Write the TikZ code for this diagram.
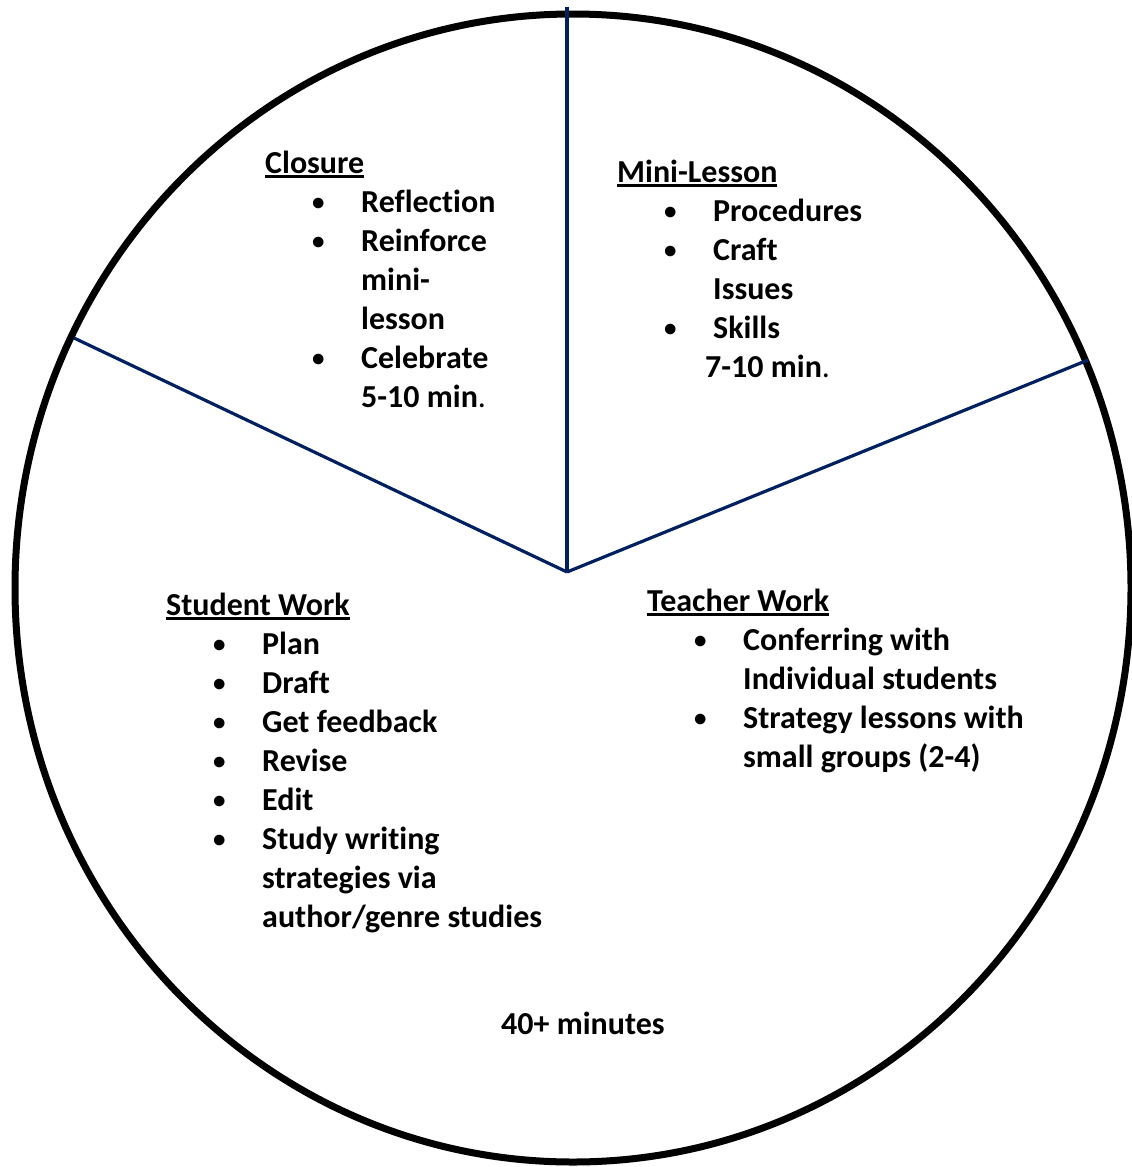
\documentclass[tikz,border=0pt]{standalone}
\usepackage{fontspec}
\setmainfont[Ligatures=NoCommon]{Carlito}
\usepackage{array}
\usepackage{graphicx}
\definecolor{spoke}{RGB}{0,32,96}
\newcommand\hd[1]{\setbox0\hbox{#1}\rlap{\rule[-5pt]{\wd0}{2.6pt}}\box0}
\newcommand\bu{\raisebox{1.6pt}{\scalebox{0.78}{\textbullet}}}
\newenvironment{blist}{\begin{tabular}[t]{@{}p{47pt}@{}p{49pt}@{}l@{}}}{\end{tabular}}
\tikzset{
  rim/.style={line width=7pt, draw=black},
  spokeline/.style={line width=3.2pt, draw=spoke},
  block/.style={anchor=base west, inner sep=0pt, font=\bfseries\fontsize{32}{39}\selectfont},
}
\begin{document}
\begin{tikzpicture}[x=1pt,y=-1pt]
\useasboundingbox (0,0) rectangle (1132,1167);
\draw[rim] (573,588) ellipse [x radius=558, y radius=574];
\coordinate (hub) at (567,572);
\coordinate (top) at (567,7);
\coordinate (left) at (74,338);
\coordinate (right) at (1088,360);
\draw[spokeline] (hub) -- (top);
\draw[spokeline] (hub) -- (left);
\draw[spokeline] (hub) -- (right);

\node[block] (closure) at (265,173) {\begin{blist}
\multicolumn{3}{@{}l@{}}{\hd{Closure}}\\
&\bu&Reflection\\
&\bu&Reinforce\\
&&mini-\\
&&lesson\\
&\bu&Celebrate\\
&&5-10 min{\mdseries .}
\end{blist}};

\node[block] (minilesson) at (617,182) {\begin{blist}
\multicolumn{3}{@{}l@{}}{\hd{Mini-Lesson}}\\
&\bu&Procedures\\
&\bu&Craft\\
&&Issues\\
&\bu&Skills\\
\multicolumn{3}{@{}l@{}}{\hspace*{88pt}7-10 min{\mdseries .}}
\end{blist}};

\node[block] (student) at (166,615) {\begin{blist}
\multicolumn{3}{@{}l@{}}{\hd{Student Work}}\\
&\bu&Plan\\
&\bu&Draft\\
&\bu&Get feedback\\
&\bu&Revise\\
&\bu&Edit\\
&\bu&Study writing\\
&&strategies via\\
&&author/genre studies
\end{blist}};

\node[block] (teacher) at (647,611) {\begin{blist}
\multicolumn{3}{@{}l@{}}{\hd{Teacher Work}}\\
&\bu&Conferring with\\
&&Individual students\\
&\bu&Strategy lessons with\\
&&small groups (2-4)
\end{blist}};

\node[block] (total) at (501,1034) {40+ minutes};
\end{tikzpicture}
\end{document}
